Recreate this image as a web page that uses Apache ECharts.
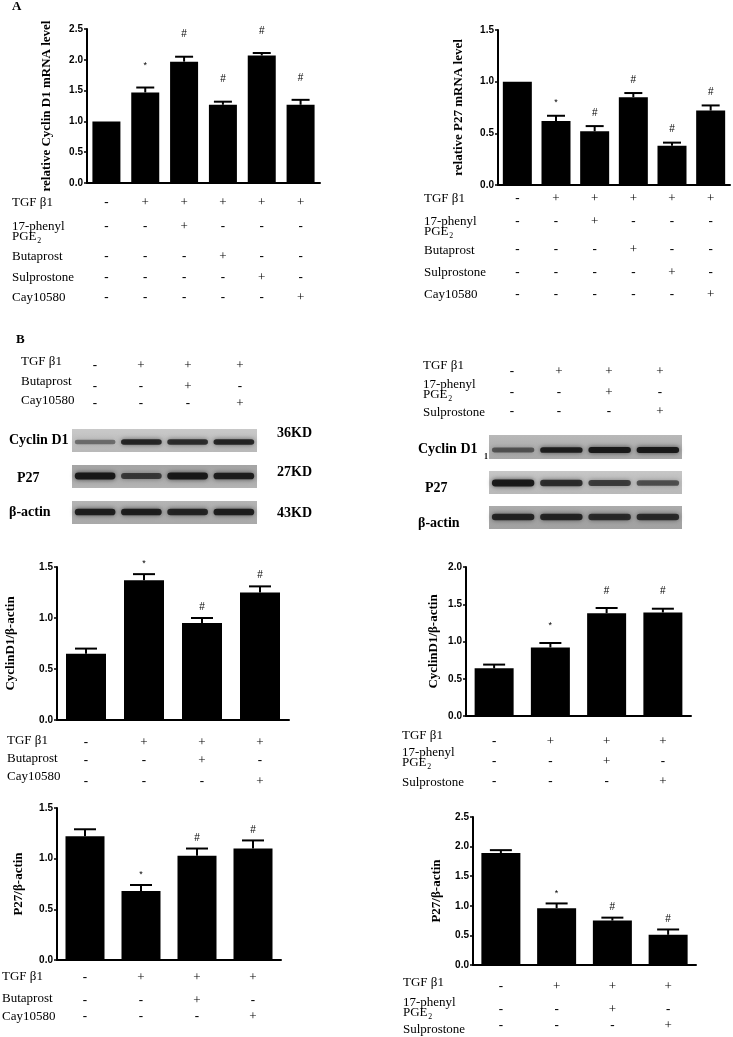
<!DOCTYPE html>
<html>
<head>
<meta charset="utf-8">
<script src="https://cdn.jsdelivr.net/npm/echarts@6/dist/echarts.min.js"></script>
<style>
html, body { margin: 0; padding: 0; background: #fff; }
#fig { width: 733px; height: 1037px; }
</style>
</head>
<body>
<div id="fig"></div>
<script>
// groups
const groupsA = ['Con', 'TGF', 'TGF+17pPGE2', 'TGF+Buta', 'TGF+Sulp', 'TGF+Cay'];
const groupsL = ['Con', 'TGF', 'TGF+Buta', 'TGF+Cay'];
const groupsR = ['Con', 'TGF', 'TGF+17pPGE2', 'TGF+Sulp'];

// A: qPCR
const cyclinMrna = [1.00, 1.47, 1.97, 1.27, 2.07, 1.27];
const cyclinMrnaErr = [0, 0.08, 0.08, 0.05, 0.04, 0.08];
const cyclinMrnaSig = ['', '*', '#', '#', '#', '#'];
const p27Mrna = [1.00, 0.62, 0.52, 0.85, 0.38, 0.72];
const p27MrnaErr = [0, 0.05, 0.05, 0.04, 0.03, 0.05];
const p27MrnaSig = ['', '*', '#', '#', '#', '#'];

// B: western blot densitometry
const cyclinBlotL = [0.65, 1.37, 0.95, 1.25];
const cyclinBlotLErr = [0.05, 0.06, 0.05, 0.06];
const cyclinBlotLSig = ['', '*', '#', '#'];
const cyclinBlotR = [0.64, 0.92, 1.38, 1.39];
const cyclinBlotRErr = [0.05, 0.06, 0.07, 0.05];
const cyclinBlotRSig = ['', '*', '#', '#'];
const p27BlotL = [1.22, 0.68, 1.03, 1.10];
const p27BlotLErr = [0.07, 0.06, 0.07, 0.08];
const p27BlotLSig = ['', '*', '#', '#'];
const p27BlotR = [1.89, 0.96, 0.75, 0.51];
const p27BlotRErr = [0.05, 0.08, 0.05, 0.09];
const p27BlotRSig = ['', '*', '#', '#'];

// treatment tables
const tgfA = ['-', '+', '+', '+', '+', '+'];
const phenylA = ['-', '-', '+', '-', '-', '-'];
const butaA = ['-', '-', '-', '+', '-', '-'];
const sulpA = ['-', '-', '-', '-', '+', '-'];
const cayA = ['-', '-', '-', '-', '-', '+'];
const tgfB = ['-', '+', '+', '+'];
const butaL = ['-', '-', '+', '-'];
const cayL = ['-', '-', '-', '+'];
const phenylR = ['-', '-', '+', '-'];
const sulpR = ['-', '-', '-', '+'];

// band strength per lane (blot pictures)
const bandCyclinL = [0.45, 0.85, 0.8, 0.85];
const bandP27L = [0.95, 0.7, 0.95, 0.9];
const bandActinL = [0.9, 0.9, 0.85, 0.9];
const bandCyclinR = [0.55, 0.9, 0.95, 0.95];
const bandP27R = [0.95, 0.8, 0.7, 0.6];
const bandActinR = [0.85, 0.85, 0.8, 0.8];

const SERIF = '"Liberation Serif", "DejaVu Serif", serif';
const SANS = '"Liberation Sans", Arial, sans-serif';

const panels = [
    { cats: groupsA, vals: cyclinMrna, err: cyclinMrnaErr, sig: cyclinMrnaSig, max: 2.5,
      grid: { left: 87, top: 29, width: 233, height: 154 }, barWidth: 28, cap: 9, gap: 22,
      name: 'relative Cyclin D1 mRNA level', nameGap: 34 },
    { cats: groupsA, vals: p27Mrna, err: p27MrnaErr, sig: p27MrnaSig, max: 1.5,
      grid: { left: 498, top: 30, width: 232, height: 155 }, barWidth: 29, cap: 9, gap: 13,
      name: 'relative P27 mRNA level', nameGap: 33 },
    { cats: groupsL, vals: cyclinBlotL, err: cyclinBlotLErr, sig: cyclinBlotLSig, max: 1.5,
      grid: { left: 57, top: 567, width: 232, height: 153 }, barWidth: 40, cap: 11, gap: 11,
      name: 'CyclinD1/β-actin', nameGap: 40 },
    { cats: groupsR, vals: cyclinBlotR, err: cyclinBlotRErr, sig: cyclinBlotRSig, max: 2.0,
      grid: { left: 466, top: 567, width: 225, height: 149 }, barWidth: 39, cap: 11, gap: 17,
      name: 'CyclinD1/β-actin', nameGap: 26 },
    { cats: groupsL, vals: p27BlotL, err: p27BlotLErr, sig: p27BlotLSig, max: 1.5,
      grid: { left: 57, top: 808, width: 224, height: 152 }, barWidth: 39, cap: 11, gap: 10,
      name: 'P27/β-actin', nameGap: 32 },
    { cats: groupsR, vals: p27BlotR, err: p27BlotRErr, sig: p27BlotRSig, max: 2.5,
      grid: { left: 473, top: 817, width: 223, height: 148 }, barWidth: 39, cap: 11, gap: 10,
      name: 'P27/β-actin', nameGap: 30 }
];

function errRender(p) {
    return function (params, api) {
        const i = api.value(0), v = api.value(1), e = api.value(2);
        const top = api.coord([i, v + e]);
        const base = api.coord([i, v]);
        const children = [];
        if (e > 0) {
            children.push({ type: 'line', shape: { x1: top[0], y1: base[1], x2: top[0], y2: top[1] },
                style: { stroke: '#000', lineWidth: 2 } });
            children.push({ type: 'line', shape: { x1: top[0] - p.cap, y1: top[1], x2: top[0] + p.cap, y2: top[1] },
                style: { stroke: '#000', lineWidth: 2 } });
        }
        const s = p.sig[params.dataIndex];
        if (s) {
            children.push({ type: 'text', x: top[0], y: top[1] - p.gap,
                style: { text: s, fontFamily: SANS, fontSize: s === '*' ? 9 : 10, fill: '#000',
                    align: 'center', verticalAlign: 'middle' } });
        }
        return { type: 'group', children: children };
    };
}

let chart = echarts.init(document.getElementById('fig'));

let option = {
    backgroundColor: '#fff',
    animation: false,
    grid: panels.map(p => p.grid),
    xAxis: panels.map((p, i) => ({
        type: 'category', gridIndex: i, data: p.cats,
        axisLine: { lineStyle: { color: '#000', width: 2 } },
        axisTick: { alignWithLabel: true, length: 4, lineStyle: { color: '#000', width: 1.5 } },
        axisLabel: { show: false }
    })),
    yAxis: panels.map((p, i) => ({
        type: 'value', gridIndex: i, min: 0, max: p.max, interval: 0.5,
        name: p.name, nameLocation: 'middle', nameRotate: 90, nameGap: p.nameGap,
        nameTextStyle: { fontFamily: SERIF, fontWeight: 'bold', fontSize: 13, color: '#000' },
        axisLine: { show: true, lineStyle: { color: '#000', width: 2 } },
        axisTick: { show: true, length: 3, lineStyle: { color: '#000', width: 1.5 } },
        splitLine: { show: false },
        axisLabel: { formatter: v => v.toFixed(1), fontFamily: SANS, fontWeight: 'bold',
            fontSize: 10, color: '#000', margin: 4, showMinLabel: true, showMaxLabel: true }
    })),
    series: []
};

panels.forEach((p, i) => {
    option.series.push({
        type: 'bar', xAxisIndex: i, yAxisIndex: i, data: p.vals,
        barWidth: p.barWidth, itemStyle: { color: '#000' }, silent: true
    });
    option.series.push({
        type: 'custom', xAxisIndex: i, yAxisIndex: i, z: 5, silent: true,
        data: p.vals.map((v, k) => [k, v, p.err[k]]),
        renderItem: errRender(p)
    });
});

chart.setOption(option);

// ---- extra text, tables and blot pictures ----
const g = [];

function text(x, y, s, size, bold, align) {
    g.push({ type: 'text', x: x, y: y, silent: true,
        style: { text: s, fontFamily: SERIF, fontSize: size, fontWeight: bold ? 'bold' : 'normal',
            fill: '#000', align: align || 'left', verticalAlign: 'middle' } });
}

function pgeLabel(x, y, size, bold) {
    text(x, y, '17-phenyl', size, bold);
    text(x, y + 10, 'PGE', size, bold);
    text(x + size * 1.95, y + 14, '2', size * 0.6, bold);
}

// rows: [label, labelY, signY, signs, isPge]
function table(xs, labelX, rows, size, bold) {
    rows.forEach(r => {
        if (r[4]) pgeLabel(labelX, r[1], size, bold);
        else text(labelX, r[1], r[0], size, bold);
        r[3].forEach((s, k) => text(xs[k], r[2], s, 13, s === '-', 'center'));
    });
}

function blot(x, y, w, h, bg, bands, bandY, bandH) {
    g.push({ type: 'rect', silent: true, shape: { x: x, y: y, width: w, height: h },
        style: { fill: new echarts.graphic.LinearGradient(0, 0, 0, 1, [
            { offset: 0, color: bg[0] }, { offset: 1, color: bg[1] }]) } });
    const lw = w / bands.length;
    bands.forEach((s, k) => {
        const bh = bandH * (0.55 + 0.45 * s);
        g.push({ type: 'rect', silent: true,
            shape: { x: x + k * lw + lw * 0.06, y: y + bandY - bh / 2, width: lw * 0.88, height: bh, r: bh / 2 },
            style: { fill: 'rgba(20,20,20,' + s + ')', shadowBlur: 5, shadowColor: 'rgba(0,0,0,' + (s * 0.7) + ')' } });
    });
}

const xsOf = i => panels[i].cats.map(c => chart.convertToPixel({ xAxisIndex: i }, c));

// panel letters
text(12, 7, 'A', 13, true);
text(16, 340, 'B', 13, true);

// A tables
table(xsOf(0), 12, [
    ['TGF β1', 203, 203, tgfA],
    ['', 227, 227, phenylA, true],
    ['Butaprost', 257, 257, butaA],
    ['Sulprostone', 278, 278, sulpA],
    ['Cay10580', 298, 298, cayA]
], 13, false);
table(xsOf(1), 424, [
    ['TGF β1', 199, 199, tgfA],
    ['', 222, 222, phenylA, true],
    ['Butaprost', 251, 250, butaA],
    ['Sulprostone', 273, 273, sulpA],
    ['Cay10580', 295, 295, cayA]
], 13, false);

// B blot tables
const laneL = [95, 141, 188, 240];
const laneR = [512, 559, 609, 660];
table(laneL, 21, [
    ['TGF β1', 362, 366, tgfB],
    ['Butaprost', 382, 387, butaL],
    ['Cay10580', 401, 404, cayL]
], 13, false);
table(laneR, 423, [
    ['TGF β1', 366, 372, tgfB],
    ['', 385, 393, phenylR, true],
    ['Sulprostone', 413, 412, sulpR]
], 13, false);

// blots left
blot(72, 429, 185, 23, ['#c9c9c9', '#b9b9b9'], bandCyclinL, 13, 6);
blot(72, 465, 185, 23, ['#a4a4a4', '#b4b4b4'], bandP27L, 11, 7);
blot(72, 501, 185, 23, ['#b4b4b4', '#a9a9a9'], bandActinL, 11, 7);
text(9, 440, 'Cyclin D1', 14, true);
text(17, 478, 'P27', 14, true);
text(9, 512, 'β-actin', 14, true);
text(277, 433, '36KD', 14, true);
text(277, 472, '27KD', 14, true);
text(277, 513, '43KD', 14, true);

// blots right
blot(489, 435, 193, 24, ['#b8b8b8', '#a9a9a9'], bandCyclinR, 15, 6);
blot(489, 471, 193, 23, ['#c6c6c6', '#b9b9b9'], bandP27R, 12, 7);
blot(489, 506, 193, 23, ['#ababab', '#a2a2a2'], bandActinR, 11, 7);
text(418, 449, 'Cyclin D1', 14, true);
text(484, 457, '1', 8, true);
text(425, 488, 'P27', 14, true);
text(418, 523, 'β-actin', 14, true);

// B chart tables
table(xsOf(2), 7, [
    ['TGF β1', 741, 743, tgfB],
    ['Butaprost', 759, 761, butaL],
    ['Cay10580', 777, 782, cayL]
], 13, false);
table(xsOf(3), 402, [
    ['TGF β1', 736, 742, tgfB],
    ['', 753, 762, phenylR, true],
    ['Sulprostone', 783, 782, sulpR]
], 13, false);
table(xsOf(4), 2, [
    ['TGF β1', 977, 978, tgfB],
    ['Butaprost', 999, 1001, butaL],
    ['Cay10580', 1017, 1017, cayL]
], 13, false);
table(xsOf(5), 403, [
    ['TGF β1', 983, 987, tgfB],
    ['', 1003, 1010, phenylR, true],
    ['Sulprostone', 1030, 1026, sulpR]
], 13, false);

chart.setOption({ graphic: { elements: g } });
</script>
</body>
</html>
